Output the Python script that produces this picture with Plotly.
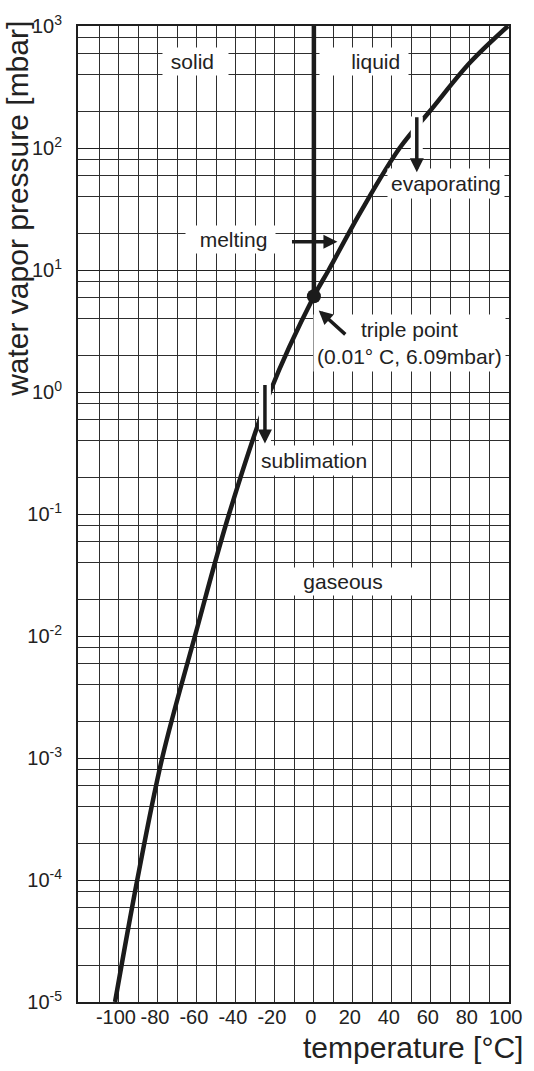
import plotly.graph_objects as go

# Phase boundary of water: sublimation + vaporisation curve (temperature in degC, pressure in mbar)
curve_temp_c = [-102.0, -90.6, -77.8, -61.0, -43.5, -22.5, 0.01, 7.6, 24.0, 44.0, 60.0, 80.0, 99.6]
curve_pressure_mbar = [1e-5, 1e-4, 1e-3, 1e-2, 1e-1, 1.0, 6.09, 10.0, 30.0, 100.0, 205.0, 500.0, 1000.0]

# Melting line (vertical, from the triple point upwards)
melting_temp_c = [0.01, 0.01]
melting_pressure_mbar = [6.09, 1000.0]

# Triple point
triple_temp_c = 0.01
triple_pressure_mbar = 6.09

# Tick labels
x_tick_vals = [-100, -80, -60, -40, -20, 0, 20, 40, 60, 80, 100]
x_tick_text = ["-100", "-80", "-60", "-40", "-20", "0", "20", "40", "60", "80", "100"]
y_tick_vals = [1e-5, 1e-4, 1e-3, 1e-2, 1e-1, 1e0, 1e1, 1e2, 1e3]
y_tick_text = ["10<sup>-5</sup>", "10<sup>-4</sup>", "10<sup>-3</sup>", "10<sup>-2</sup>",
               "10<sup>-1</sup>", "10<sup>0</sup>", "10<sup>1</sup>", "10<sup>2</sup>", "10<sup>3</sup>"]

INK = "#1b1b1b"
GRID = "#2e2e2e"
FONT = "Liberation Sans, Arial, Helvetica, sans-serif"
NB = "\u00a0"

x_minor = [t for t in range(-110, 100, 20)]
y_minor = [m * 10.0 ** e for e in range(-5, 3) for m in (2, 4, 6, 8)]

fig = go.Figure()

fig.add_trace(go.Scatter(
    x=curve_temp_c, y=curve_pressure_mbar, mode="lines",
    line=dict(color=INK, width=4.5, shape="spline", smoothing=1.0),
    hoverinfo="skip", showlegend=False))

fig.add_trace(go.Scatter(
    x=melting_temp_c, y=melting_pressure_mbar, mode="lines",
    line=dict(color=INK, width=4.5), hoverinfo="skip", showlegend=False))

fig.add_trace(go.Scatter(
    x=[triple_temp_c], y=[triple_pressure_mbar], mode="markers",
    marker=dict(size=14, color=INK), hoverinfo="skip", showlegend=False))

annotations = []


def label(text, x, logy, pad_l=0, pad_r=0, bpad=2):
    annotations.append(dict(
        x=x, y=logy, xref="x", yref="y", showarrow=False,
        text=NB * pad_l + text + NB * pad_r,
        font=dict(size=21, color="#222", family=FONT),
        bgcolor="white", borderpad=bpad, xanchor="center", yanchor="middle"))


label("solid", -60.5, 2.705, 1, 2)
label("liquid", 25.8, 2.705, 5, 1)
label("evaporating", 67.7, 1.705, 0, 0, 3)
label("melting", -42.7, 1.247, 2, 1)
label("triple point<br>(0.01° C, 6.09mbar)", 49.0, 0.399, 0, 0, 3)
label("sublimation", -0.1, -0.558, 0, 0, 3)
label("gaseous", 19.7, -1.552, 4, 7)


def arrow(x_tip, y_tip, x_tail, y_tail, color, width, head):
    annotations.append(dict(
        x=x_tip, y=y_tip, ax=x_tail, ay=y_tail, xref="x", yref="y",
        axref="x", ayref="y", text="", showarrow=True,
        arrowcolor=color, arrowwidth=width, arrowhead=head, arrowsize=0.8,
        standoff=0, startstandoff=0))


# white halos where arrows cross the curve
arrow(52.8, 1.79, 52.8, 2.27, "white", 12, 0)
arrow(-25.1, -0.435, -25.1, 0.075, "white", 12, 0)

# arrows
arrow(52.8, 1.802, 52.8, 2.264, INK, 3.5, 2)
arrow(12.1, 1.232, -12.0, 1.232, INK, 3.5, 2)
arrow(2.5, 0.669, 16.9, 0.461, INK, 3.5, 2)
arrow(-25.1, -0.423, -25.1, 0.069, INK, 3.5, 2)

# axis titles
annotations.append(dict(
    text="water vapor pressure [mbar]", textangle=-90, showarrow=False,
    xref="paper", yref="paper", x=-0.140, y=1.007, xanchor="center", yanchor="top",
    font=dict(size=30, color="#222", family=FONT)))
annotations.append(dict(
    text="temperature [°C]", showarrow=False,
    xref="paper", yref="paper", x=1.037, y=-0.0465, xanchor="right", yanchor="middle",
    font=dict(size=30, color="#222", family=FONT)))

fig.update_layout(
    width=534, height=1071,
    margin=dict(l=78, r=21, t=15, b=69),
    paper_bgcolor="white", plot_bgcolor="white",
    font=dict(family=FONT, color="#222", size=20),
    showlegend=False,
    annotations=annotations,
)

fig.update_xaxes(
    range=[-121, 100.1], tickmode="array", tickvals=x_tick_vals, ticktext=x_tick_text,
    showgrid=True, gridcolor=GRID, gridwidth=1.2,
    minor=dict(tickmode="array", tickvals=x_minor, showgrid=True, gridcolor=GRID, gridwidth=1.2),
    showline=True, linecolor="#1e1e1e", linewidth=2, mirror=True, zeroline=False,
    ticks="", ticklabelshift=-3, ticklabelstandoff=-4, tickfont=dict(size=20),
)

fig.update_yaxes(
    type="log", range=[-5, 3], tickmode="array", tickvals=y_tick_vals, ticktext=y_tick_text,
    showgrid=True, gridcolor="#202020", gridwidth=1.4,
    minor=dict(tickmode="array", tickvals=y_minor, showgrid=True, gridcolor=GRID, gridwidth=1.2),
    showline=True, linecolor="#1e1e1e", linewidth=2, mirror=True, zeroline=False,
    ticks="", ticklabelstandoff=10, tickfont=dict(size=20),
)

fig.write_html("out.html")
